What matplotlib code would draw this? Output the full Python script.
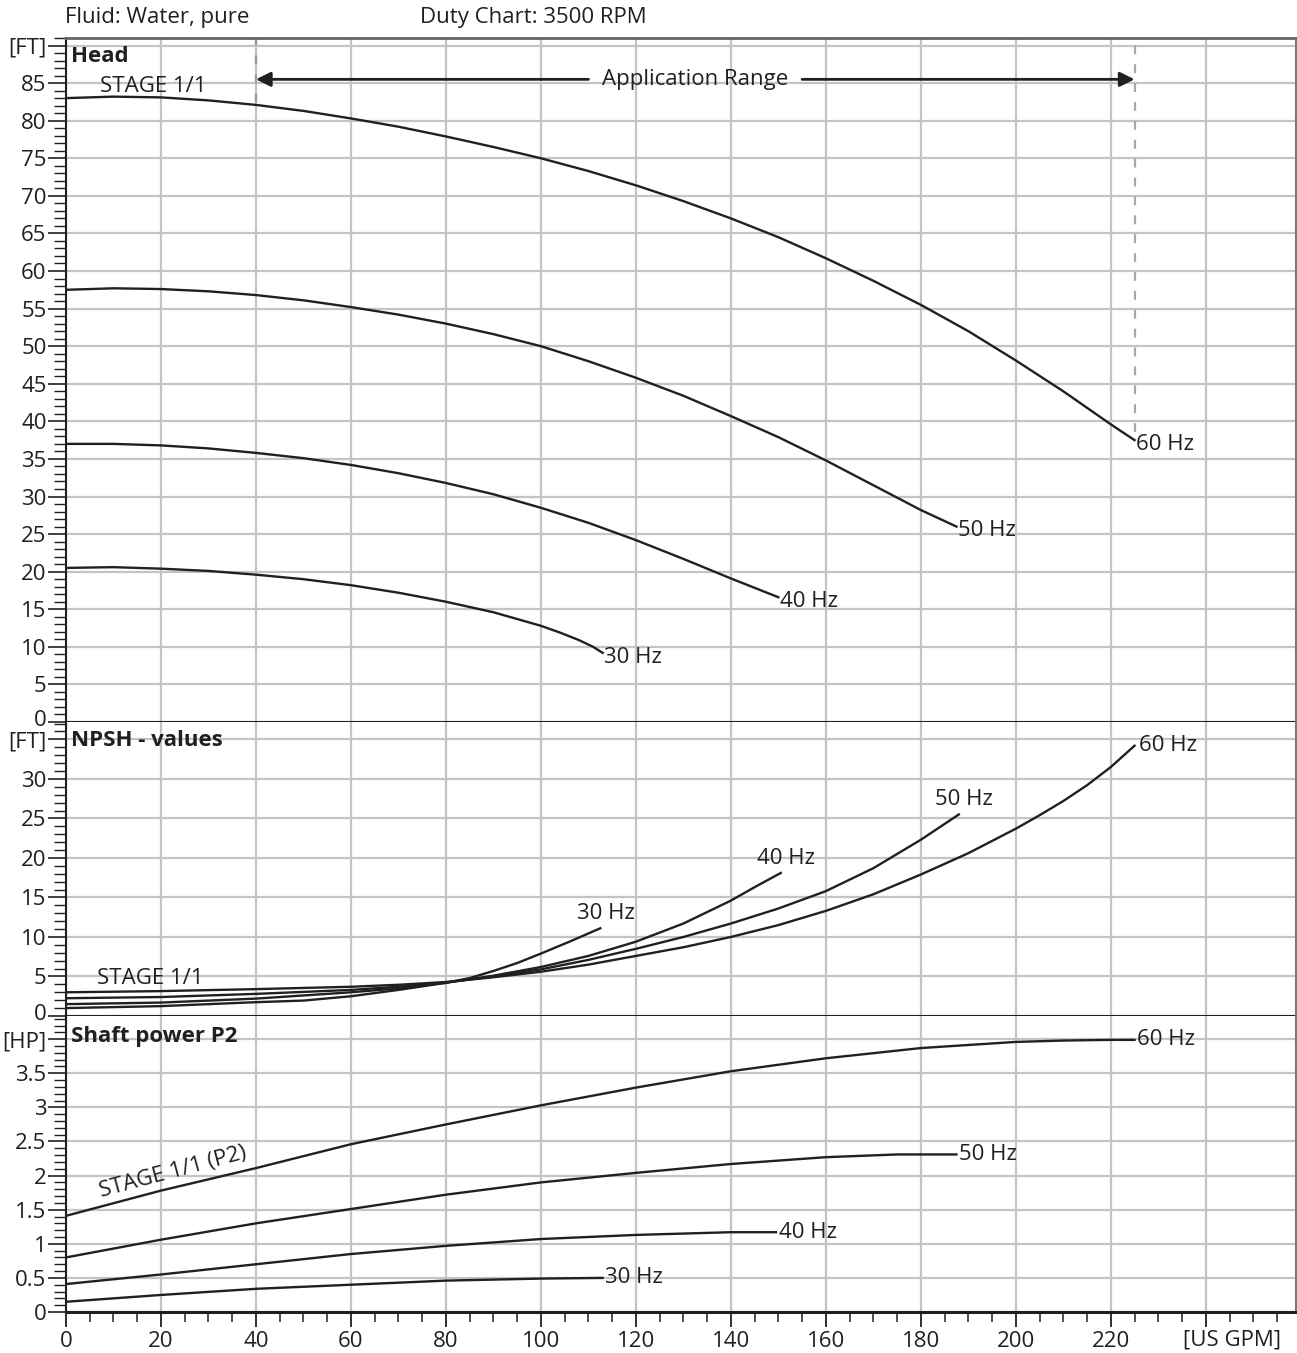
import numpy as np
import matplotlib
matplotlib.use("Agg")
import matplotlib.pyplot as plt
from matplotlib.ticker import MultipleLocator
from matplotlib.transforms import ScaledTranslation

plt.rcParams['font.family'] = ['Open Sans', 'DejaVu Sans']

INK = '#231f20'
GRID = '#c4c4c4'
FS = 16

# --- Head [FT] vs flow [US GPM] ---
head_q60 = [0, 10, 20, 30, 40, 50, 60, 70, 80, 90, 100, 110, 120, 130, 140, 150, 160, 170, 180, 190, 200, 210, 220, 225]
head_60 = [83.0, 83.2, 83.1, 82.7, 82.1, 81.3, 80.3, 79.2, 77.9, 76.5, 75.0, 73.3, 71.4, 69.3, 67.0, 64.5, 61.7, 58.7, 55.5, 52.0, 48.1, 44.0, 39.6, 37.5]
head_q50 = [0, 10, 20, 30, 40, 50, 60, 70, 80, 90, 100, 110, 120, 130, 140, 150, 160, 170, 180, 187.5]
head_50 = [57.5, 57.7, 57.6, 57.3, 56.8, 56.1, 55.2, 54.2, 53.0, 51.6, 50.0, 48.0, 45.8, 43.4, 40.7, 37.9, 34.8, 31.5, 28.2, 26.0]
head_q40 = [0, 10, 20, 30, 40, 50, 60, 70, 80, 90, 100, 110, 120, 130, 140, 150]
head_40 = [37.0, 37.0, 36.8, 36.4, 35.8, 35.1, 34.2, 33.1, 31.8, 30.3, 28.5, 26.5, 24.2, 21.7, 19.1, 16.6]
head_q30 = [0, 10, 20, 30, 40, 50, 60, 70, 80, 90, 100, 104, 108, 111, 113]
head_30 = [20.5, 20.6, 20.4, 20.1, 19.6, 19.0, 18.2, 17.2, 16.0, 14.6, 12.8, 11.9, 10.9, 10.0, 9.2]

# --- NPSH [FT] ---
npsh_q60 = [0, 20, 40, 60, 70, 80, 90, 100, 110, 120, 130, 140, 150, 160, 170, 180, 190, 200, 205, 210, 215, 220, 225]
npsh_60 = [3.0, 3.15, 3.4, 3.7, 3.95, 4.3, 4.9, 5.6, 6.5, 7.6, 8.7, 10.0, 11.5, 13.3, 15.4, 17.9, 20.6, 23.7, 25.4, 27.2, 29.2, 31.5, 34.2]
npsh_q50 = [0, 20, 40, 60, 70, 80, 90, 100, 110, 120, 130, 140, 150, 160, 170, 180, 184, 188]
npsh_50 = [2.25, 2.4, 2.8, 3.3, 3.7, 4.25, 5.0, 5.9, 7.1, 8.5, 10.0, 11.7, 13.6, 15.8, 18.7, 22.3, 23.9, 25.5]
npsh_q40 = [0, 20, 40, 60, 70, 80, 90, 100, 110, 120, 130, 140, 145, 150.5]
npsh_40 = [1.5, 1.7, 2.2, 3.0, 3.5, 4.2, 5.1, 6.2, 7.6, 9.4, 11.7, 14.6, 16.3, 18.1]
npsh_q30 = [0, 20, 40, 50, 60, 70, 80, 85, 90, 95, 100, 106, 112.5]
npsh_30 = [1.0, 1.25, 1.75, 1.95, 2.5, 3.3, 4.2, 4.8, 5.7, 6.7, 7.9, 9.4, 11.1]

# --- Shaft power P2 [HP] ---
pow_q60 = [0, 20, 40, 60, 80, 100, 120, 140, 160, 180, 200, 210, 220, 225]
pow_60 = [1.41, 1.78, 2.11, 2.46, 2.75, 3.03, 3.29, 3.53, 3.72, 3.87, 3.96, 3.98, 3.99, 3.99]
pow_q50 = [0, 20, 40, 60, 80, 100, 120, 140, 160, 175, 187.5]
pow_50 = [0.80, 1.06, 1.30, 1.51, 1.72, 1.90, 2.04, 2.17, 2.27, 2.31, 2.31]
pow_q40 = [0, 20, 40, 60, 80, 100, 120, 140, 149.5]
pow_40 = [0.41, 0.55, 0.70, 0.85, 0.97, 1.07, 1.13, 1.17, 1.17]
pow_q30 = [0, 20, 40, 60, 80, 100, 113]
pow_30 = [0.15, 0.25, 0.34, 0.40, 0.46, 0.49, 0.50]

freq_labels = ['60 Hz', '50 Hz', '40 Hz', '30 Hz']
app_range = [40, 225]

fig = plt.figure(figsize=(12.97, 13.53), dpi=100)


def box(top, bottom):
    return [66 / 1297, 1 - bottom / 1353, 1230 / 1297, (bottom - top) / 1353]


ax_h = fig.add_axes(box(38, 722))
ax_n = fig.add_axes(box(722, 1016))
ax_p = fig.add_axes(box(1016, 1312))


def style(ax, ymax, ticks, labels, yminor):
    ax.set_xlim(0, 259)
    ax.set_ylim(0, ymax)
    ax.xaxis.set_major_locator(MultipleLocator(20))
    ax.xaxis.set_minor_locator(MultipleLocator(5))
    ax.set_yticks(ticks)
    ax.set_yticklabels(labels)
    ax.yaxis.set_minor_locator(MultipleLocator(yminor))
    ax.grid(True, which='major', color=GRID, lw=1.6)
    ax.set_axisbelow(True)
    ax.tick_params(axis='y', which='major', length=13, width=1.2, color=INK,
                   labelsize=FS, labelcolor=INK, pad=1)
    ax.tick_params(axis='y', which='minor', length=9, width=1.0, color=INK)
    ax.tick_params(axis='x', which='both', bottom=False, labelbottom=False)
    ax.spines['left'].set_color(INK)
    ax.spines['left'].set_linewidth(1.5)
    ax.spines['right'].set_color('#777777')
    ax.spines['right'].set_linewidth(1.5)
    ax.spines['bottom'].set_color(INK)
    ax.spines['bottom'].set_linewidth(2.2)
    ax.spines['top'].set_visible(False)


style(ax_h, 91, list(range(0, 95, 5)), [str(v) for v in range(0, 90, 5)] + ['[FT]'], 1)
style(ax_n, 37.2, list(range(0, 40, 5)), [str(v) for v in range(0, 35, 5)] + ['[FT]'], 1)
style(ax_p, 4.34, [0, 0.5, 1, 1.5, 2, 2.5, 3, 3.5, 4],
      ['0', '0.5', '1', '1.5', '2', '2.5', '3', '3.5', '[HP]'], 0.1)
ax_h.spines['top'].set_visible(True)
ax_h.spines['top'].set_color('#666666')
ax_h.spines['top'].set_linewidth(2)

# nudge the bottom "0" labels up a little so they clear the unit label below
nudge = ScaledTranslation(0, 3 / 72, fig.dpi_scale_trans)
for ax in (ax_h, ax_n):
    lab0 = ax.yaxis.get_major_ticks()[0].label1
    lab0.set_transform(lab0.get_transform() + nudge)

ax_p.tick_params(axis='x', which='both', bottom=True, labelbottom=True, color=INK,
                 labelsize=FS, labelcolor=INK)
ax_p.tick_params(axis='x', which='major', length=11, width=1.3, pad=3)
ax_p.tick_params(axis='x', which='minor', length=7, width=1.1)
ax_p.set_xticks(range(0, 260, 20))
ax_p.set_xticklabels([str(v) for v in range(0, 240, 20)] + [''])
ax_p.text(245.5, -0.255, '[US GPM]', ha='center', va='top', fontsize=FS, color=INK)

lw = 1.7
head_sets = [(head_q60, head_60), (head_q50, head_50), (head_q40, head_40), (head_q30, head_30)]
npsh_sets = [(npsh_q60, npsh_60), (npsh_q50, npsh_50), (npsh_q40, npsh_40), (npsh_q30, npsh_30)]
pow_sets = [(pow_q60, pow_60), (pow_q50, pow_50), (pow_q40, pow_40), (pow_q30, pow_30)]

for (q, v), lab in zip(head_sets, freq_labels):
    ax_h.plot(q, v, color=INK, lw=lw)
    ax_h.annotate(lab, (q[-1], v[-1]), xytext=(1, -3), textcoords='offset points',
                  ha='left', va='center', fontsize=FS, color=INK)

for i, ((q, v), lab) in enumerate(zip(npsh_sets, freq_labels)):
    ax_n.plot(q, v, color=INK, lw=lw)
    if i == 0:
        ax_n.annotate(lab, (q[-1], v[-1]), xytext=(3, 0), textcoords='offset points',
                      ha='left', va='center', fontsize=FS, color=INK)
    else:
        ax_n.annotate(lab, (q[-1], v[-1]), xytext=(4, 3), textcoords='offset points',
                      ha='center', va='bottom', fontsize=FS, color=INK)

for (q, v), lab in zip(pow_sets, freq_labels):
    ax_p.plot(q, v, color=INK, lw=lw)
    ax_p.annotate(lab, (q[-1], v[-1]), xytext=(2, 0), textcoords='offset points',
                  ha='left', va='center', fontsize=FS, color=INK)

# panel titles
ax_h.text(1, 88.6, 'Head', fontsize=FS, weight='bold', color=INK, va='center')
ax_n.text(1, 34.8, 'NPSH - values', fontsize=FS, weight='bold', color=INK, va='center')
ax_p.text(1, 4.04, 'Shaft power P2', fontsize=FS, weight='bold', color=INK, va='center')

ax_h.text(7.2, 84.6, 'STAGE 1/1', fontsize=FS, color=INK, va='center')
ax_n.text(6.5, 4.8, 'STAGE 1/1', fontsize=FS, color=INK, va='center')
ax_p.text(7.6, 1.62, 'STAGE 1/1 (P2)', fontsize=FS, color=INK, rotation=15,
          rotation_mode='anchor', ha='left', va='bottom')

# application range
ax_h.plot([app_range[0]] * 2, [82.5, 91], color='#999999', lw=1.6, ls=(0, (4, 4.5)))
ax_h.plot([app_range[1]] * 2, [38.6, 91], color='#a8a8a8', lw=1.6, ls=(0, (4, 4.5)))
arrow = dict(arrowstyle='-|>', color=INK, lw=2, shrinkA=0, shrinkB=0, mutation_scale=22)
ax_h.annotate('', xy=(app_range[0], 85.5), xytext=(110, 85.5), arrowprops=arrow)
ax_h.annotate('', xy=(app_range[1], 85.5), xytext=(155, 85.5), arrowprops=arrow)
ax_h.text(sum(app_range) / 2, 85.5, 'Application Range', ha='center', va='center',
          fontsize=FS, color=INK)

fig.text(65 / 1297, 1 - 18 / 1353, 'Fluid: Water, pure', fontsize=FS, color=INK, va='center')
fig.text(420 / 1297, 1 - 18 / 1353, 'Duty Chart: 3500 RPM', fontsize=FS, color=INK, va='center')

fig.savefig('out.png', dpi=100)
